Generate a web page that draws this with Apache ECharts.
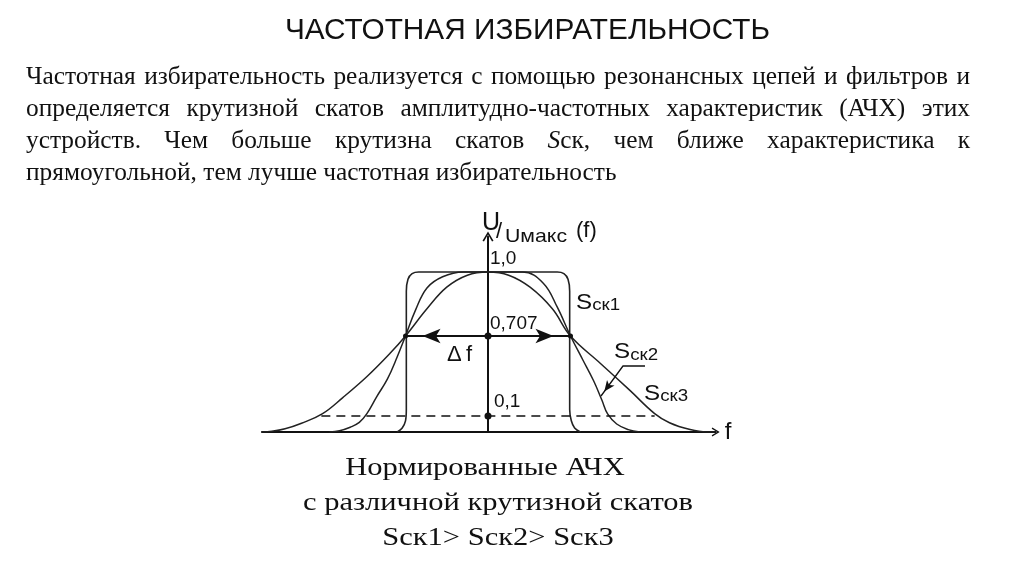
<!DOCTYPE html>
<html>
<head>
<meta charset="utf-8">
<script src="https://cdn.jsdelivr.net/npm/echarts@6/dist/echarts.min.js"></script>
<style>html,body{margin:0;padding:0;background:#fff}#c{width:1024px;height:574px}</style>
</head>
<body>
<div id="c"></div>
<script>
// ---------- text content ----------
const titleText = 'ЧАСТОТНАЯ ИЗБИРАТЕЛЬНОСТЬ';
const paragraphLines = [
  'Частотная избирательность реализуется с помощью резонансных цепей и фильтров и',
  'определяется крутизной скатов амплитудно-частотных характеристик (АЧХ) этих',
  'устройств. Чем больше крутизна скатов Sск, чем ближе характеристика к',
  'прямоугольной, тем лучше частотная избирательность'
];
const captionLines = ['Нормированные АЧХ', 'с различной крутизной скатов', 'Sск1> Sск2> Sск3'];
const curveNames = ['ск1', 'ск2', 'ск3'];
const axisXName = 'f';
const axisYName = ['U', '/', 'Uмакс', '(f)'];
const bandLabel = ['Δ', 'f'];

// ---------- values (x: units of Δf/2, y: height relative to 1,0) ----------
const levelHeights = [1.0, 0.6, 0.1];
const levelLabels = ['1,0', '0,707', '0,1'];
const bandEdges = [-1, 1];
const tenPercentSpan = [-2.02, 2.02];
const sck1 = [[-1.1,0],[-1.04,0.025],[-1.0,0.07],[-0.99,0.14],[-0.99,0.88],[-0.97,0.955],[-0.92,0.99],[-0.84,1],
  [0.84,1],[0.92,0.99],[0.97,0.955],[0.99,0.88],[0.99,0.14],[1.01,0.07],[1.05,0.025],[1.12,0]];
const sck2 = [[-1.92,0],[-1.8,0.008],[-1.67,0.03],[-1.56,0.06],[-1.47,0.113],[-1.35,0.22],[-1.22,0.33],[-1.1,0.47],
  [-1.0,0.6],[-0.88,0.76],[-0.74,0.9],[-0.55,0.97],[-0.3,1],[0,1],[0.42,1],[0.67,0.93],[0.84,0.78],[1.0,0.6],
  [1.15,0.45],[1.28,0.32],[1.38,0.2],[1.45,0.113],[1.56,0.05],[1.7,0.015],[1.84,0]];
const sck3 = [[-2.74,0],[-2.62,0.004],[-2.46,0.02],[-2.26,0.055],[-2.01,0.113],[-1.76,0.215],[-1.47,0.345],
  [-1.19,0.49],[-1.0,0.6],[-0.74,0.77],[-0.5,0.905],[-0.25,0.98],[0,1],[0.25,0.98],[0.51,0.905],[0.78,0.77],
  [1.0,0.6],[1.36,0.43],[1.72,0.26],[2.02,0.115],[2.2,0.058],[2.45,0.015],[2.65,0],[2.76,0]];

// ---------- layout ----------
const SERIF = '"Liberation Serif", "Times New Roman", serif';
const SANS = '"Liberation Sans", Arial, sans-serif';
const INK = '#111';
const CURVE = '#222';
const ORIGIN = [488, 432];
const PX_X = 82.5, PX_Y = 160;
const X_MIN = -2.74, X_MAX = 2.76, Y_MAX = 1.222;

const mctx = document.createElement('canvas').getContext('2d');
function tw(t, size, family, style) { mctx.font = (style || 'normal') + ' ' + size + 'px ' + family; return mctx.measureText(t).width; }
function txt(text, x, y, size, family, align, extra, sx) {
  return { type: 'text', x: x, y: y, scaleX: sx || 1, silent: true,
    style: Object.assign({ text: text, fill: INK, fontSize: size, fontFamily: family,
      align: align || 'left', verticalAlign: 'middle', textAlign: align || 'left', textVerticalAlign: 'middle' }, extra || {}) };
}

const graphics = [];
// title (slightly condensed, as on the slide)
const titleSize = 29.3;
const titleSX = 485 / tw(titleText, titleSize, SANS);
graphics.push(txt(titleText, 527.5, 41 - 0.3465 * titleSize, titleSize, SANS, 'center', null, titleSX));

// paragraph, justified
const paraSize = 100 * 591 / tw(paragraphLines[3], 100, SERIF);
const paraLeft = 26, paraRight = 970, paraBase = [86, 118, 150, 182];
paragraphLines.forEach(function (line, li) {
  const y = paraBase[li] - 0.3375 * paraSize;
  const words = line.split(' ');
  const wordW = words.map(function (w) {
    if (w === 'Sск,') return tw('S', paraSize, SERIF, 'italic') + tw('ск,', paraSize, SERIF);
    return tw(w, paraSize, SERIF);
  });
  const justify = li < paragraphLines.length - 1;
  const sum = wordW.reduce(function (a, b) { return a + b; }, 0);
  const gap = justify ? (paraRight - paraLeft - sum) / (words.length - 1) : tw(' ', paraSize, SERIF);
  let x = paraLeft;
  words.forEach(function (w, wi) {
    if (w === 'Sск,') {
      graphics.push(txt('{i|S}{n|ск,}', x, y, paraSize, SERIF, 'left', { rich: {
        i: { fontStyle: 'italic', fontSize: paraSize, fontFamily: SERIF, fill: INK },
        n: { fontSize: paraSize, fontFamily: SERIF, fill: INK } } }));
    } else {
      graphics.push(txt(w, x, y, paraSize, SERIF, 'left'));
    }
    x += wordW[wi] + gap;
  });
});

// caption
const capSize = 24.5;
const capSX = 390 / tw(captionLines[1], capSize, SERIF);
const capCenters = [485, 498, 498], capBase = [477, 512, 547];
captionLines.forEach(function (l, i) {
  graphics.push(txt(l, capCenters[i], capBase[i] - 0.3375 * capSize, capSize, SERIF, 'center', null, capSX));
});

// chart annotations
graphics.push(txt(axisYName[0], 482, 232 - 0.3465 * 25, 25, SANS));
graphics.push(txt(axisYName[1], 496, 240 - 0.3465 * 22, 22, SANS));
graphics.push(txt(axisYName[2], 505, 243 - 0.3465 * 19, 19, SANS, 'left', null, 1.12));
graphics.push(txt(axisYName[3], 576, 239 - 0.3465 * 22, 22, SANS));
graphics.push(txt(bandLabel[0], 447, 363 - 0.3465 * 22, 22, SANS));
graphics.push(txt(bandLabel[1], 466, 363 - 0.3465 * 22, 22, SANS));
const sLabelPos = [[576, 310.5], [614, 360], [644, 401.7]];
curveNames.forEach(function (n, i) {
  graphics.push(txt('{s|S}{k|' + n + '}', sLabelPos[i][0], sLabelPos[i][1] - 0.3465 * 22, 22, SANS, 'left', { rich: {
    s: { fontSize: 22, fontFamily: SANS, fill: INK, verticalAlign: 'bottom' },
    k: { fontSize: 17, fontFamily: SANS, fill: INK, verticalAlign: 'bottom' } } }, 1.1));
});

const chevron = 'path://M0,10 L6,0 L12,10 L10.4,10.9 L6,3.4 L1.6,10.9 Z';

const chart = echarts.init(document.getElementById('c'), null, { renderer: 'canvas' });
const lineBase = { type: 'line', showSymbol: false, symbol: 'none', silent: true, animation: false };
const solid = { color: INK, opacity: 1 };
chart.setOption({
  animation: false,
  backgroundColor: '#fff',
  grid: { left: ORIGIN[0] + X_MIN * PX_X, top: ORIGIN[1] - Y_MAX * PX_Y, width: (X_MAX - X_MIN) * PX_X, height: Y_MAX * PX_Y, containLabel: false },
  xAxis: { type: 'value', min: X_MIN, max: X_MAX,
    axisLine: { show: true, onZero: false, lineStyle: { color: INK, width: 2 }, symbol: ['none', chevron], symbolSize: [11, 8] },
    axisTick: { show: false }, axisLabel: { show: false }, splitLine: { show: false },
    name: axisXName, nameLocation: 'end', nameGap: 9,
    nameTextStyle: { color: INK, fontSize: 24, fontFamily: SANS, verticalAlign: 'middle', align: 'left' } },
  yAxis: { type: 'value', min: 0, max: Y_MAX,
    axisLine: { show: true, onZero: true, lineStyle: { color: INK, width: 2 }, symbol: ['none', chevron], symbolSize: [14, 10] },
    axisTick: { show: false }, axisLabel: { show: false }, splitLine: { show: false } },
  graphic: graphics,
  series: [
    Object.assign({}, lineBase, { name: 'Sск3', data: sck3, smooth: 0.4, lineStyle: { color: CURVE, width: 1.5 }, z: 3 }),
    Object.assign({}, lineBase, { name: 'Sск2', data: sck2, smooth: 0.4, lineStyle: { color: CURVE, width: 1.5 }, z: 3 }),
    Object.assign({}, lineBase, { name: 'Sск1', data: sck1, smooth: 0.35, lineStyle: { color: CURVE, width: 1.6 }, z: 3 }),
    Object.assign({}, lineBase, { name: '0,1', data: [[tenPercentSpan[0], levelHeights[2]], [tenPercentSpan[1], levelHeights[2]]],
      lineStyle: { color: INK, width: 1.5, type: [9, 6] }, z: 4 }),
    Object.assign({}, lineBase, { name: 'Δf', data: [[bandEdges[0], levelHeights[1]], [bandEdges[1], levelHeights[1]]],
      lineStyle: { color: INK, width: 2 }, z: 4 }),
    { type: 'scatter', name: 'Δf arrows', silent: true, z: 5, symbol: 'arrow', symbolSize: [11, 18], itemStyle: solid,
      data: [{ value: [bandEdges[0], levelHeights[1]], symbolRotate: 90, symbolOffset: [17, 0] },
             { value: [bandEdges[1], levelHeights[1]], symbolRotate: -90, symbolOffset: [-17, 0] }] },
    { type: 'scatter', name: 'axis dots', silent: true, z: 6, symbol: 'circle', symbolSize: 7, itemStyle: solid,
      data: [[0, levelHeights[1]], [0, levelHeights[2]]] },
    { type: 'scatter', name: 'cross dots', silent: true, z: 6, symbol: 'circle', symbolSize: 5, itemStyle: solid,
      data: [[bandEdges[0], levelHeights[1]], [bandEdges[1], levelHeights[1]]] },
    { type: 'scatter', name: 'level labels', silent: true, z: 7, symbolSize: 0, itemStyle: solid,
      data: levelHeights.map(function (h, i) {
        const off = [[2, -13], [2, -12.5], [6, -14.5]][i];
        return { value: [0, h], label: { show: true, formatter: levelLabels[i], position: off, align: 'left', verticalAlign: 'middle',
          color: INK, opacity: 1, fontSize: 19, fontFamily: SANS } };
      }) },
    Object.assign({}, lineBase, { name: 'Sск2 leader', data: [[1.903, 0.4125], [1.636, 0.4125], [1.37, 0.225]], lineStyle: { color: INK, width: 1.3 }, z: 4 }),
    { type: 'scatter', name: 'leader arrow', silent: true, z: 5, symbol: 'arrow', symbolSize: [7, 11], itemStyle: solid,
      data: [{ value: [1.37, 0.225], symbolRotate: 143.7, symbolOffset: [3.25, -4.43] }] }
  ]
});
</script>
</body>
</html>
